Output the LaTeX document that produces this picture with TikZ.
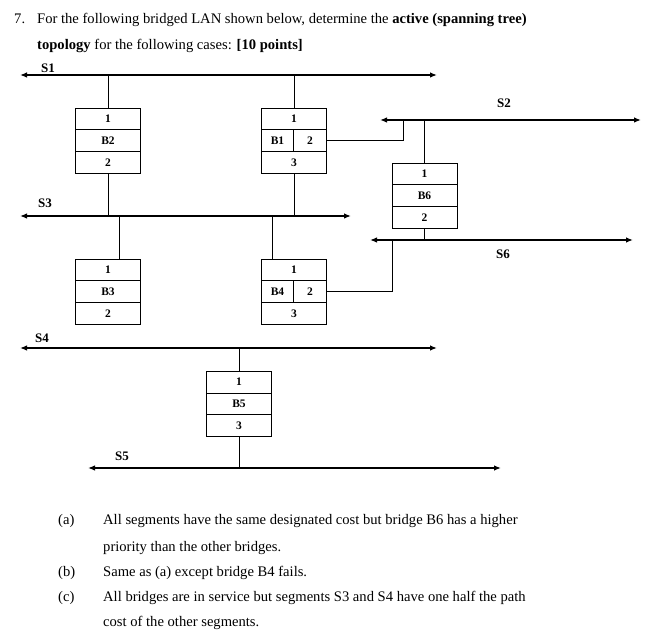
\documentclass[tikz,border=0pt]{standalone}
\usepackage{fontspec}
\setmainfont{Liberation Serif}
\usetikzlibrary{arrows.meta}
\tikzset{
  seg/.style={line width=1.3pt,{Latex[length=7pt,width=5.5pt]}-{Latex[length=7pt,width=5.5pt]}},
  wire/.style={line width=0.7pt},
  cell/.style={draw,line width=0.7pt,outer sep=0pt,minimum width=65pt,minimum height=21.7pt,inner sep=0pt,font=\fontsize{11.5}{13}\selectfont\bfseries},
  halfl/.style={cell,minimum width=32pt},
  halfr/.style={cell,minimum width=33pt},
  slab/.style={inner sep=0pt,font=\fontsize{13}{15}\selectfont\bfseries},
  txt/.style={inner sep=0pt,anchor=base west,font=\fontsize{14.6}{17}\selectfont},
}
\begin{document}
\begin{tikzpicture}[x=1pt,y=-1pt]
\useasboundingbox (0,0) rectangle (645,636);
% title
\node[txt] (q7) at (14,24) {7.};
\node[txt] (t1) at (37,24) {For the following bridged LAN shown below, determine the \textbf{active (spanning tree)}};
\node[txt] (t2) at (37,50) {\textbf{topology} for the following cases: \textbf{[10 points]}};
% segments
\coordinate (s1l) at (20,75);  \coordinate (s1r) at (437,75);
\coordinate (s2l) at (380,120); \coordinate (s2r) at (641,120);
\coordinate (s3l) at (20,216); \coordinate (s3r) at (351,216);
\coordinate (s6l) at (370,240); \coordinate (s6r) at (633,240);
\coordinate (s4l) at (20,348); \coordinate (s4r) at (437,348);
\coordinate (s5l) at (88,468); \coordinate (s5r) at (501,468);
\draw[seg] (s1l) -- (s1r);
\draw[seg] (s2l) -- (s2r);
\draw[seg] (s3l) -- (s3r);
\draw[seg] (s6l) -- (s6r);
\draw[seg] (s4l) -- (s4r);
\draw[seg] (s5l) -- (s5r);
\node[slab] (S1) at (48,68) {S1};
\node[slab] (S2) at (504,103) {S2};
\node[slab] (S3) at (45,203) {S3};
\node[slab] (S6) at (503,254) {S6};
\node[slab] (S4) at (42,338) {S4};
\node[slab] (S5) at (122,456) {S5};
% B2
\node[cell] (b2a) at (108,119) {1};
\node[cell,anchor=north] (b2b) at (b2a.south) {B2};
\node[cell,anchor=north] (b2c) at (b2b.south) {2};
% B1
\node[cell] (b1a) at (294,119) {1};
\node[halfl,anchor=north west] (b1b) at (b1a.south west) {B1};
\node[halfr,anchor=north east] (b1p) at (b1a.south east) {2};
\node[cell,anchor=north] (b1c) at (b1a.south |- b1b.south) {3};
% B6
\node[cell] (b6a) at (424.5,174) {1};
\node[cell,anchor=north] (b6b) at (b6a.south) {B6};
\node[cell,anchor=north] (b6c) at (b6b.south) {2};
% B3
\node[cell] (b3a) at (108,270) {1};
\node[cell,anchor=north] (b3b) at (b3a.south) {B3};
\node[cell,anchor=north] (b3c) at (b3b.south) {2};
% B4
\node[cell] (b4a) at (294,270) {1};
\node[halfl,anchor=north west] (b4b) at (b4a.south west) {B4};
\node[halfr,anchor=north east] (b4p) at (b4a.south east) {2};
\node[cell,anchor=north] (b4c) at (b4a.south |- b4b.south) {3};
% B5
\node[cell] (b5a) at (239,382) {1};
\node[cell,anchor=north] (b5b) at (b5a.south) {B5};
\node[cell,anchor=north] (b5c) at (b5b.south) {3};
% connectors
\draw[wire] (b2a.north) -- (b2a.north |- s1l);
\draw[wire] (b2c.south) -- (b2c.south |- s3l);
\draw[wire] (b1a.north) -- (b1a.north |- s1l);
\draw[wire] (b1c.south) -- (b1c.south |- s3l);
\draw[wire] (b1p.east) -| (403,120);
\draw[wire] (b6a.north) -- (b6a.north |- s2l);
\draw[wire] (b6c.south) -- (b6c.south |- s6l);
\draw[wire] ([xshift=11pt]b3a.north) -- ([xshift=11pt]b3a.north |- s3l);
\draw[wire] ([xshift=-22pt]b4a.north) -- ([xshift=-22pt]b4a.north |- s3l);
\draw[wire] (b4p.east) -| (392,240);
\draw[wire] (b5a.north) -- (b5a.north |- s4l);
\draw[wire] (b5c.south) -- (b5c.south |- s5l);
% cases
\node[txt] (la) at (58,524) {(a)};
\node[txt] (ta) at (103,524) {All segments have the same designated cost but bridge B6 has a higher};
\node[txt] (ta2) at (103,551) {priority than the other bridges.};
\node[txt] (lb) at (58,576) {(b)};
\node[txt] (tb) at (103,576) {Same as (a) except bridge B4 fails.};
\node[txt] (lc) at (58,601) {(c)};
\node[txt] (tc) at (103,601) {All bridges are in service but segments S3 and S4 have one half the path};
\node[txt] (tc2) at (103,626) {cost of the other segments.};
\end{tikzpicture}
\end{document}
